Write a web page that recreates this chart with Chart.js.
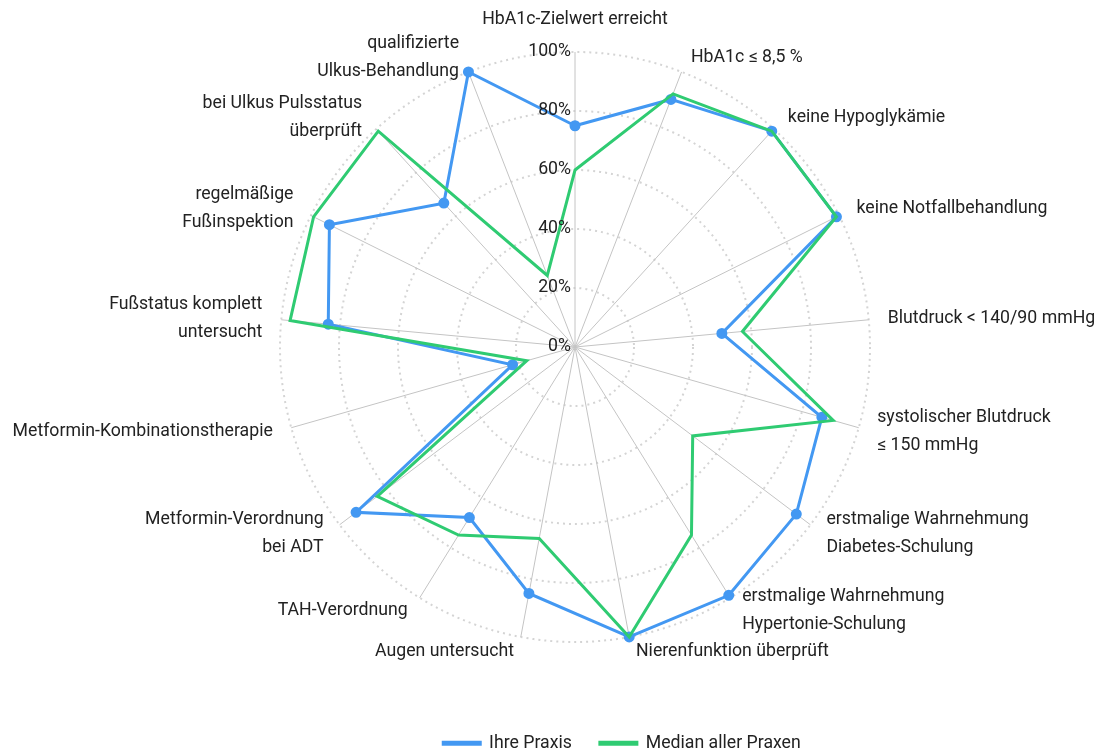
<!DOCTYPE html>
<html>
<head>
<meta charset="utf-8">
<script src="https://cdn.jsdelivr.net/npm/chart.js@4.4.0/dist/chart.umd.min.js"></script>
<style>
    html, body { margin: 0; padding: 0; background: #fff; }
    #wrap { width: 1097px; height: 755px; position: relative; }
</style>
</head>
<body>
<div id="wrap"><canvas id="radarChart"></canvas></div>
<script>
// Achsen (17 Indikatoren)
const categories = [
    'HbA1c-Zielwert erreicht',
    'HbA1c ≤ 8,5 %',
    'keine Hypoglykämie',
    'keine Notfallbehandlung',
    'Blutdruck < 140/90 mmHg',
    ['systolischer Blutdruck', '≤ 150 mmHg'],
    ['erstmalige Wahrnehmung', 'Diabetes-Schulung'],
    ['erstmalige Wahrnehmung', 'Hypertonie-Schulung'],
    'Nierenfunktion überprüft',
    'Augen untersucht',
    'TAH-Verordnung',
    ['Metformin-Verordnung', 'bei ADT'],
    'Metformin-Kombinationstherapie',
    ['Fußstatus komplett', 'untersucht'],
    ['regelmäßige', 'Fußinspektion'],
    ['bei Ulkus Pulsstatus', 'überprüft'],
    ['qualifizierte', 'Ulkus-Behandlung']
];

const ihrePraxis = [75, 90, 99, 99, 50, 87, 94, 99, 100, 85, 68, 93, 22, 84, 93, 66, 100];
const medianAllerPraxen = [60, 92, 99, 99, 57, 91, 50, 75, 100, 66, 75, 84, 17, 97, 99, 99, 26];

const tickValues = [0, 20, 40, 60, 80, 100];

const BLUE = '#4398f2';
const GREEN = '#2fcb72';
const TEXT = '#222222';
const FONT = "Roboto, 'Noto Sans', sans-serif";
const FONT_SIZE = 17.7;
const LINE_H = 28;   // Zeilenabstand der Achsenbeschriftungen
const LABEL_GAP = 15;

// Prozent-Beschriftungen links neben der senkrechten Achse
const tickLabelPlugin = {
    id: 'tickLabels',
    afterDatasetsDraw(chart) {
        const scale = chart.scales.r;
        const ctx = chart.ctx;
        ctx.save();
        ctx.font = `${FONT_SIZE}px ${FONT}`;
        ctx.fillStyle = TEXT;
        ctx.textAlign = 'right';
        ctx.textBaseline = 'middle';
        tickValues.forEach(v => {
            const d = scale.getDistanceFromCenterForValue(v);
            ctx.fillText(v + '%', scale.xCenter - 4, scale.yCenter - d);
        });
        ctx.restore();
    }
};

// Achsenbeschriftungen: seitlich ausgerichtet, vertikal mittig zum Achsenende
const pointLabelPlugin = {
    id: 'pointLabelsCustom',
    afterDatasetsDraw(chart) {
        const scale = chart.scales.r;
        const ctx = chart.ctx;
        ctx.save();
        ctx.font = `${FONT_SIZE}px ${FONT}`;
        ctx.fillStyle = TEXT;
        ctx.textBaseline = 'middle';
        categories.forEach((label, i) => {
            const lines = Array.isArray(label) ? label : [label];
            const pos = scale.getPointPosition(i, scale.drawingArea + LABEL_GAP);
            const a = scale.getIndexAngle(i);
            const s = Math.sin(a);
            let x = pos.x;
            let firstY;
            if (Math.abs(s) < 0.01) {
                ctx.textAlign = 'center';
                if (Math.cos(a) > 0) {
                    firstY = pos.y - (lines.length - 1) * LINE_H - LINE_H / 2 - 3;
                } else {
                    firstY = pos.y + LINE_H / 2;
                }
            } else {
                ctx.textAlign = s > 0 ? 'left' : 'right';
                x += s > 0 ? 4 : -4;
                firstY = pos.y - (lines.length - 1) * LINE_H / 2;
            }
            lines.forEach((ln, k) => ctx.fillText(ln, x, firstY + k * LINE_H));
        });
        ctx.restore();
    }
};

// Legende etwas nach rechts verschieben (wie im Original)
const legendShift = {
    id: 'legendShift',
    afterUpdate(chart) {
        chart.legend.left += 47;
        chart.legend.right += 47;
    }
};

const ctx = document.getElementById('radarChart').getContext('2d');
new Chart(ctx, {
    type: 'radar',
    data: {
        labels: categories,
        datasets: [
            {
                label: 'Ihre Praxis',
                data: ihrePraxis,
                borderColor: BLUE,
                backgroundColor: BLUE,
                borderWidth: 3,
                fill: false,
                pointRadius: 4,
                pointBackgroundColor: BLUE,
                pointBorderColor: BLUE,
                order: 1
            },
            {
                label: 'Median aller Praxen',
                data: medianAllerPraxen,
                borderColor: GREEN,
                backgroundColor: GREEN,
                borderWidth: 3,
                fill: false,
                pointRadius: 0,
                order: 0
            }
        ]
    },
    options: {
        responsive: true,
        maintainAspectRatio: false,
        animation: false,
        layout: { padding: { top: 0, bottom: -7, left: 280, right: 227 } },
        plugins: {
            legend: {
                position: 'bottom',
                // leerer Titel nur als Abstand oberhalb der Legende
                title: { display: true, text: '', padding: { top: 11, bottom: 0 }, font: { size: 1 } },
                labels: {
                    boxWidth: 37,
                    boxHeight: 2,
                    padding: 28,
                    color: TEXT,
                    font: { family: FONT, size: FONT_SIZE },
                    sort: (a, b) => a.datasetIndex - b.datasetIndex
                }
            },
            tooltip: { enabled: false }
        },
        scales: {
            r: {
                min: 0,
                max: 100,
                ticks: { stepSize: 20, display: false },
                grid: { circular: true, color: '#d4d4d4', lineWidth: 2, borderDash: [2, 4] },
                border: { dash: [2, 4] },
                angleLines: { color: '#c4c4c4', lineWidth: 1 },
                pointLabels: { display: false }
            }
        }
    },
    plugins: [tickLabelPlugin, pointLabelPlugin, legendShift]
});
</script>
</body>
</html>
